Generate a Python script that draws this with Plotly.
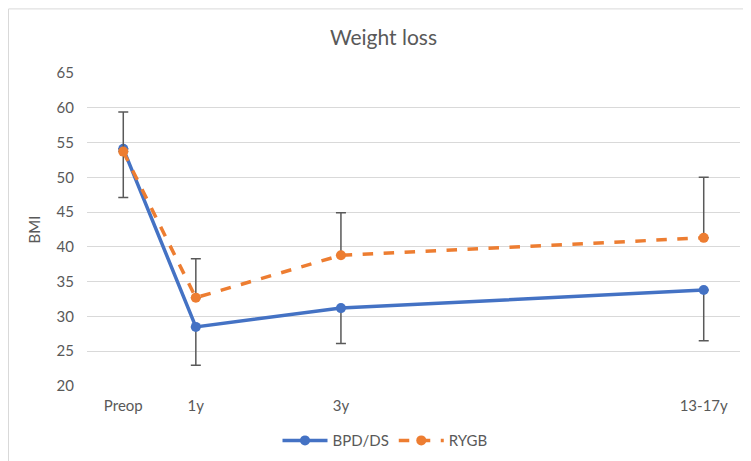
import plotly.graph_objects as go

# Data
categories = ["Preop", "1y", "3y", "13-17y"]
x_years = [0, 1, 3, 8]
bpd_ds = [54.1, 28.5, 31.2, 33.8]
bpd_ds_err_minus = [7.0, 5.5, 5.1, 7.3]
rygb = [53.7, 32.7, 38.8, 41.3]
rygb_err_plus = [5.7, 5.6, 6.1, 8.7]
y_ticks = [20, 25, 30, 35, 40, 45, 50, 55, 60, 65]

FONT = "Lato, 'Open Sans', sans-serif"
GRAY = "#595959"

fig = go.Figure()
fig.add_trace(go.Scatter(
    x=x_years, y=bpd_ds, name="BPD/DS", mode="lines+markers",
    line=dict(color="#4472C4", width=3.5),
    marker=dict(size=10, color="#4472C4"),
    error_y=dict(type="data", symmetric=False, array=[0]*4, arrayminus=bpd_ds_err_minus,
                 color=GRAY, thickness=1.5, width=5),
))
fig.add_trace(go.Scatter(
    x=x_years, y=rygb, name="RYGB", mode="lines+markers",
    line=dict(color="#ED7D31", width=3.5, dash="dash"),
    marker=dict(size=10, color="#ED7D31"),
    error_y=dict(type="data", symmetric=False, array=rygb_err_plus, arrayminus=[0]*4,
                 color=GRAY, thickness=1.5, width=5),
))

L, R, T, B = 79, 19, 65, 81
W, H = 751, 461
pw, ph = W - L - R, H - T - B

fig.update_layout(
    width=W, height=H,
    margin=dict(l=L, r=R, t=T, b=B),
    paper_bgcolor="white", plot_bgcolor="white",
    font=dict(family=FONT, color=GRAY, size=15),
    title=dict(text="Weight loss", x=0.5, xanchor="center", y=1 - 30 / H, yanchor="middle",
               font=dict(size=21, color=GRAY, family=FONT)),
    xaxis=dict(range=[-0.5, 8.5], tickmode="array", tickvals=x_years, ticktext=categories,
               showgrid=False, zeroline=False, showline=False, ticks="",
               ticklabelstandoff=9, tickfont=dict(size=15, color=GRAY)),
    yaxis=dict(range=[20, 65], tickmode="array", tickvals=y_ticks, showgrid=True,
               gridcolor="#D9D9D9", gridwidth=1, zeroline=False, showline=False, ticks="",
               ticklabelstandoff=12, tickfont=dict(size=15, color=GRAY),
               title=dict(text="BMI", font=dict(size=15, color=GRAY), standoff=12)),
    legend=dict(orientation="h", x=(377 - L) / pw, xanchor="center", y=(380 - 435) / ph,
                yanchor="middle", font=dict(size=15, color=GRAY), itemwidth=45,
                traceorder="normal"),
    showlegend=True,
    shapes=[dict(type="rect", xref="paper", yref="paper",
                 x0=(0.5 - L) / pw, x1=(W - 0.5 - L) / pw,
                 y0=(T + ph - (H - 0.5)) / ph, y1=(T + ph - 0.5) / ph,
                 line=dict(color="#D9D9D9", width=1), layer="below")],
)

fig.write_html("out.html")
